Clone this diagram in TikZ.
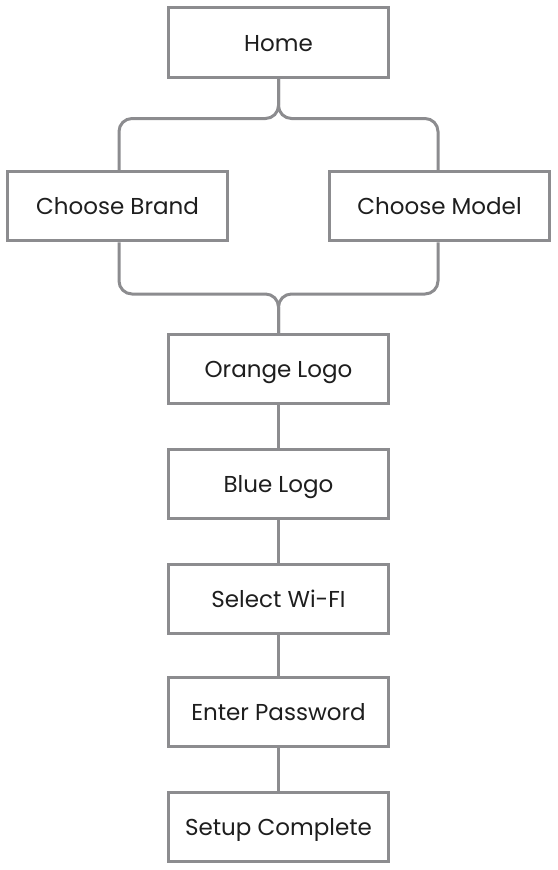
\documentclass[tikz,border=0pt]{standalone}
\usepackage{fontspec}
\setmainfont{Poppins}
\definecolor{linegray}{HTML}{8C8C8F}
\definecolor{txt}{HTML}{1E1E1E}
\begin{document}
\begin{tikzpicture}[x=1pt,y=-1pt,
  box/.style={draw=linegray,line width=3pt,fill=white,minimum width=220pt,minimum height=69.5pt,inner sep=0pt,text=txt,font=\fontsize{23}{26}\selectfont,text depth=3pt,text height=20pt},
  conn/.style={draw=linegray,line width=3pt}]
\useasboundingbox (0,0) rectangle (557,870);
\node[box] (home) at (278.5,42.5) {Home};
\node[box] (brand) at (117.5,206) {Choose Brand};
\node[box] (model) at (439.5,206) {Choose Model};
\node[box] (orange) at (278.5,369) {Orange Logo};
\node[box] (blue) at (278.5,484) {Blue Logo};
\node[box] (wifi) at (278.5,599) {Select Wi-FI};
\node[box] (pass) at (278.5,712) {Enter Password};
\node[box] (done) at (278.5,827) {Setup Complete};
\coordinate (top) at (278.5,118.5);
\coordinate (bot) at (278.5,294);
\draw[conn,rounded corners=13pt] (home.south) -- (top) -| ([xshift=1.5pt]brand.north);
\draw[conn,rounded corners=13pt] (home.south) -- (top) -| ([xshift=-1.5pt]model.north);
\draw[conn,rounded corners=13pt] ([xshift=1.5pt]brand.south) |- (bot) -- (orange.north);
\draw[conn,rounded corners=13pt] ([xshift=-1.5pt]model.south) |- (bot) -- (orange.north);
\draw[conn] (orange) -- (blue);
\draw[conn] (blue) -- (wifi);
\draw[conn] (wifi) -- (pass);
\draw[conn] (pass) -- (done);
\end{tikzpicture}
\end{document}
